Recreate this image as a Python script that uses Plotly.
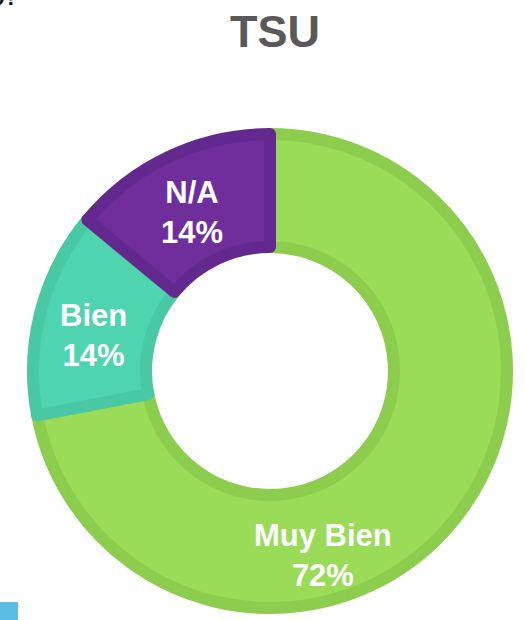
import plotly.graph_objects as go

# datos del gráfico
categorias = ["Muy Bien", "Bien", "N/A"]
porcentajes = [72, 14, 14]
colores = ["#9ADB58", "#4ED4AF", "#6F2E9C"]
bordes = ["#8CCD4E", "#48C8A3", "#64298F"]
titulo = "TSU"

W, H = 525, 620

# centros de las etiquetas (px desde arriba-izquierda)
pos_etiquetas = [(323, 555), (93, 335), (192, 212)]

fig = go.Figure()
fig.add_trace(go.Pie(
    labels=categorias,
    values=porcentajes,
    hole=0.523,
    sort=False,
    direction='clockwise',
    rotation=0,
    marker=dict(colors=colores, line=dict(color=bordes, width=12)),
    textinfo='none',
    hoverinfo='label+percent',
    showlegend=False,
    domain=dict(x=[33 / W, 507 / W], y=[1 - 608 / H, 1 - 134 / H]),
))

anots = []
for cat, val, (px, py) in zip(categorias, porcentajes, pos_etiquetas):
    anots.append(dict(
        text=f"<b>{cat}<br>{val}%</b>",
        x=px / W, y=1 - py / H, xref='paper', yref='paper',
        xanchor='center', yanchor='middle', showarrow=False,
        font=dict(family='Liberation Sans, Arial', size=31, color='white'),
    ))

# título
anots.append(dict(
    text=f"<b>{titulo}</b>", x=275 / W, y=1 - 31 / H, xref='paper', yref='paper',
    xanchor='center', yanchor='middle', showarrow=False,
    font=dict(family='Liberation Sans, Arial', size=45, color='#595959'),
))
# fragmento recortado arriba a la izquierda
anots.append(dict(
    text="<b>o?</b>", x=20 / W, y=1 - 12 / H, xref='paper', yref='paper',
    xanchor='right', yanchor='bottom', showarrow=False,
    font=dict(family='Liberation Sans, Arial', size=22, color='#111111'),
))

fig.update_layout(
    width=W, height=H,
    margin=dict(l=0, r=0, t=0, b=0),
    paper_bgcolor='white',
    plot_bgcolor='white',
    annotations=anots,
    shapes=[dict(type='rect', xref='paper', yref='paper',
                 x0=0, x1=18 / W, y0=0, y1=18 / H,
                 fillcolor='#5BBDE4', line=dict(width=0))],
)

# sin margen del body para que la figura empiece en (0,0)
fig.write_html("out.html", config={'displayModeBar': False},
               post_script="document.body.style.margin='0';")
